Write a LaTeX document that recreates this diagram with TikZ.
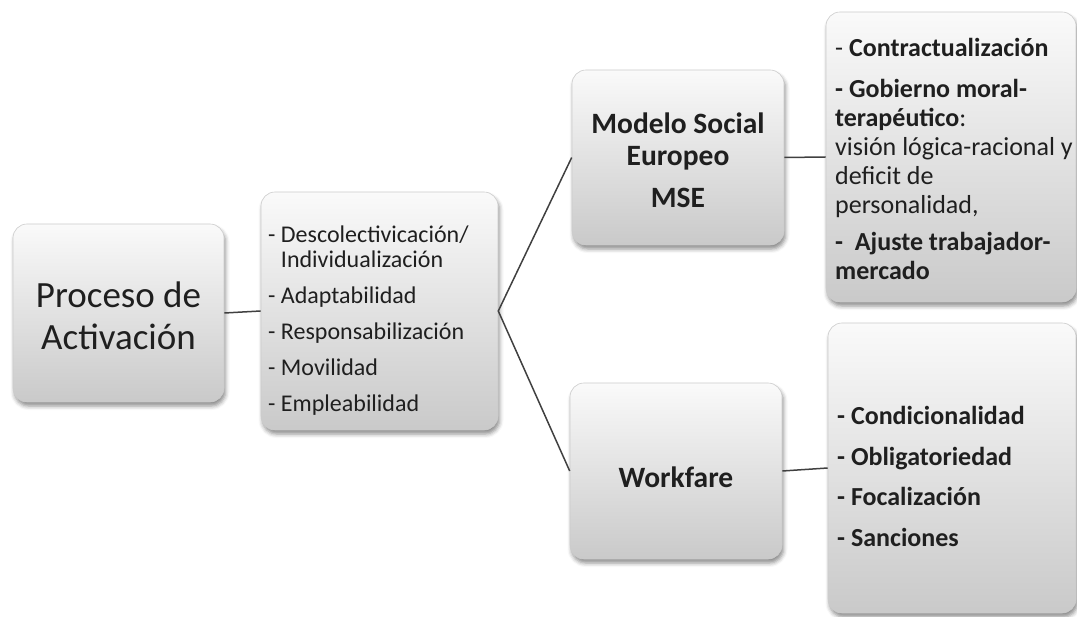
\documentclass[tikz,border=0pt]{standalone}
\usepackage{fontspec}
\setmainfont{Carlito}
\usetikzlibrary{shadows.blur}
\begin{document}
\begin{tikzpicture}[x=1pt,y=-1pt,
  card/.style={draw=gray!40, line width=0.6pt, rounded corners=14pt,
    top color=gray!4, bottom color=gray!42,
    blur shadow={shadow xshift=1.5pt, shadow yshift=-4pt,
      shadow blur radius=4pt, shadow opacity=45},
    inner sep=0pt},
  txt/.style={inner sep=0pt, text=black!88},
  listtxt/.style={txt, anchor=north west, align=flush left},
  ctrtxt/.style={txt, align=center},
  link/.style={draw=black!75, line width=1.5pt}]
\useasboundingbox (0,0) rectangle (1077,617);

% boxes
\node[card, minimum width=211pt, minimum height=178pt] (proc)   at (118.5,313) {};
\node[card, minimum width=237pt, minimum height=238pt] (feat)   at (379.5,311) {};
\node[card, minimum width=212pt, minimum height=175pt] (mse)    at (678,157.5) {};
\node[card, minimum width=212pt, minimum height=176pt] (work)   at (676,471) {};
\node[card, minimum width=250pt, minimum height=290pt] (msetr)  at (951,157) {};
\node[card, minimum width=248pt, minimum height=290pt] (worktr) at (952,468) {};

% texts
\node[ctrtxt, font=\fontsize{37}{42}\selectfont] (proct) at (118.5,316)
  {Proceso de\\Activación};

\node[listtxt, font=\fontsize{24}{25}\selectfont] (featt) at (268,226)
  {- Descolectivicación/\\\phantom{- }Individualización\\[11pt]
   - Adaptabilidad\\[11pt]
   - Responsabilización\\[11pt]
   - Movilidad\\[11pt]
   - Empleabilidad};

\node[ctrtxt, font=\bfseries\fontsize{29.5}{32}\selectfont] (mset) at (678,160)
  {Modelo Social\\Europeo\\[10pt]MSE};
\node[ctrtxt, font=\bfseries\fontsize{29.5}{32}\selectfont] (workt) at (676,477)
  {Workfare};

\node[listtxt, font=\fontsize{26}{29}\selectfont] (msetrt) at (835,38)
  {- \textbf{Contractualización}\\[12pt]
   \textbf{- Gobierno moral-}\\
   \textbf{terapéutico}:\\
   \mbox{visión lógica-racional y}\\
   deficit de\\
   personalidad,\\[8pt]
   \textbf{-\ \ Ajuste trabajador-}\\
   \textbf{mercado}};

\node[listtxt, font=\bfseries\fontsize{26}{29}\selectfont] (worktrt) at (837,406.5)
  {- Condicionalidad\\[11.5pt]
   - Obligatoriedad\\[11.5pt]
   - Focalización\\[11.5pt]
   - Sanciones};

% connectors
\draw[link] (proc.east) -- (feat.west);
\draw[link] (mse.west) -- (feat.east) -- (work.west);
\draw[link] (mse.east) -- (msetr.west);
\draw[link] (work.east) -- (worktr.west);
\end{tikzpicture}
\end{document}
